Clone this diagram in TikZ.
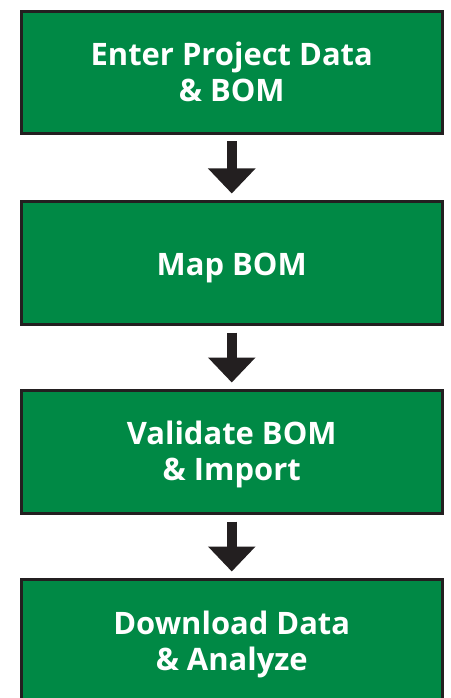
\documentclass[tikz,border=0pt]{standalone}
\usepackage{fontspec}
\setmainfont{Open Sans}
\usetikzlibrary{arrows.meta}
\definecolor{boxgreen}{RGB}{0,137,69}
\definecolor{darkline}{RGB}{35,31,32}
\begin{document}
\begin{tikzpicture}[x=0.75pt,y=-0.75pt,
  stepbox/.style={draw=darkline, fill=boxgreen, line width=2.25pt,
    minimum width=316.125pt, inner sep=0pt, outer sep=0pt},
  lbl/.style={text=white, font=\bfseries\fontsize{23.2}{27}\selectfont,
    align=center, anchor=base, inner sep=0pt},
  flow/.style={draw=darkline, line width=7.5pt,
    -{Triangle[width=34.5pt,length=18.75pt]},
    shorten <=6pt, shorten >=6pt}]
\useasboundingbox (0,0) rectangle (450,698);
\clip (0,0) rectangle (450,698);
\fill[white] (0,0) rectangle (450,698);

\node[stepbox, minimum height=91.5pt] (b1) at (231.75,72.5) {};
\node[stepbox, minimum height=92.25pt] (b2) at (231.75,263) {};
\node[stepbox, minimum height=92.25pt] (b3) at (231.75,452) {};
\node[stepbox, minimum height=120pt] (b4) at (231.75,659.5) {};

\node[lbl] (t1) at (231.75,101.5) {Enter Project Data\\\& BOM};
\node[lbl] (t2) at (231.75,275.7) {Map BOM};
\node[lbl] (t3) at (231.75,480.5) {Validate BOM\\\& Import};
\node[lbl] (t4) at (231.75,670) {Download Data\\\& Analyze};

\draw[flow] (b1.south) -- (b2.north);
\draw[flow] (b2.south) -- (b3.north);
\draw[flow] (b3.south) -- (b4.north);
\end{tikzpicture}
\end{document}
